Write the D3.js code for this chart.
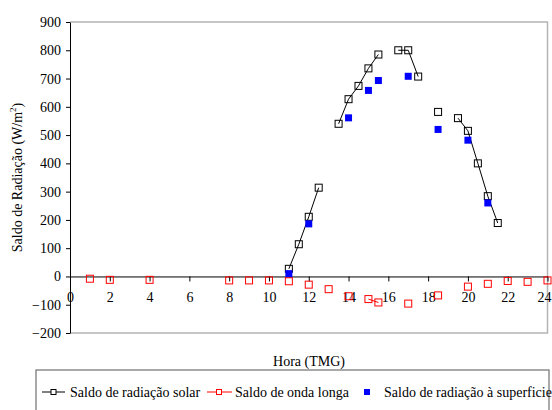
<!DOCTYPE html>
<html><head><meta charset="utf-8">
<script src="https://cdn.jsdelivr.net/npm/d3@7"></script>
<style>
body{margin:0;background:#fff;}
svg text{font-family:"Liberation Serif","Times New Roman",Times,"DejaVu Serif",serif !important;font-size:14px;fill:#000;}
</style></head>
<body><svg id="c" width="552" height="410"></svg>
<script>
const yTicks = [-200,-100,0,100,200,300,400,500,600,700,800,900];
const xTicks = [0,2,4,6,8,10,12,14,16,18,20,22,24];

const solarHours  = [11, 11.5, 12, 12.5, 13.5, 14, 14.5, 15, 15.5, 16.5, 17, 17.5, 18.5, 19.5, 20, 20.5, 21, 21.5];
const solarValues = [27, 114, 211, 314, 540, 627, 674, 736, 785, 800, 800, 707, 582, 560, 515, 400, 284, 189];

const longHours  = [1, 2, 4, 8, 9, 10, 11, 12, 13, 14, 15, 15.5, 17, 18.5, 20, 21, 22, 23, 24];
const longValues = [-8, -12, -12, -14, -14, -14, -17, -29, -45, -70, -80, -92, -96, -67, -36, -26, -16, -19, -14];

const surfHours  = [11, 12, 14, 15, 15.5, 17, 18.5, 20, 21];
const surfValues = [10, 186, 561, 658, 693, 708, 520, 482, 260];

const seriesNames = ["Saldo de radiação solar", "Saldo de onda longa", "Saldo de radiação à superficie"];

const FONT = '"Liberation Serif","Times New Roman",Times,"DejaVu Serif",serif';
const svg = d3.select("#c");
const L = 70, R = 547.5, T = 22, B = 333;
const x = d3.scaleLinear().domain([0,24]).range([L,R]);
const y = d3.scaleLinear().domain([-200,900]).range([B,T]);

// plot border (gray)
svg.append("path").attr("d",`M${L},${T}H${R}V${B}H${L}`).attr("fill","none").attr("stroke","#b4b4b4").attr("stroke-width",1.5);

// y axis
const ya = svg.append("g").attr("transform",`translate(${L},0)`)
  .call(d3.axisLeft(y).tickValues(yTicks).tickSize(4).tickPadding(5).tickSizeOuter(0))
  .attr("font-family",FONT).attr("font-size",14);
ya.select(".domain").attr("stroke","#000");
ya.selectAll(".tick line").attr("stroke","#000");
ya.selectAll("text").attr("fill","#000");

// x axis at zero
const xa = svg.append("g").attr("transform",`translate(0,${y(0)})`)
  .call(d3.axisBottom(x).tickValues(xTicks).tickSize(5).tickPadding(11).tickSizeOuter(0))
  .attr("font-family",FONT).attr("font-size",14);
xa.select(".domain").attr("stroke","#000");
xa.selectAll(".tick line").attr("stroke","#000");
xa.selectAll("text").attr("fill","#000");
xa.selectAll(".tick").filter(d=>d===24).select("text").attr("text-anchor","end").attr("dx",3.5);

// axis titles
svg.append("text").attr("x",309).attr("y",366).attr("text-anchor","middle").text("Hora (TMG)");
const yl = svg.append("text").attr("transform",`translate(22,${(T+B)/2}) rotate(-90)`).attr("text-anchor","middle");
yl.append("tspan").text("Saldo de Radiação (W/m");
yl.append("tspan").attr("dy",-6).style("font-size","9px").text("2");
yl.append("tspan").attr("dy",6).text(")");

function segments(hs, vs){
  const segs=[]; let cur=[];
  hs.forEach((h,i)=>{
    if(cur.length && h - cur[cur.length-1][0] > 0.5){ segs.push(cur); cur=[]; }
    cur.push([h, vs[i]]);
  });
  if(cur.length) segs.push(cur);
  return segs.filter(s=>s.length>1);
}
const line = d3.line().x(d=>x(d[0])).y(d=>y(d[1]));

function drawSeries(hs, vs, color){
  svg.append("g").selectAll("path").data(segments(hs,vs)).join("path")
    .attr("d",line).attr("fill","none").attr("stroke",color).attr("stroke-width",1);
  svg.append("g").selectAll("rect").data(hs.map((h,i)=>[h,vs[i]])).join("rect")
    .attr("x",d=>x(d[0])-3.5).attr("y",d=>y(d[1])-3.5).attr("width",7).attr("height",7)
    .attr("fill","none").attr("stroke",color).attr("stroke-width",1);
}
drawSeries(solarHours, solarValues, "#000");
drawSeries(longHours, longValues, "#ff0000");
svg.append("g").selectAll("rect").data(surfHours.map((h,i)=>[h,surfValues[i]])).join("rect")
  .attr("x",d=>x(d[0])-3.5).attr("y",d=>y(d[1])-3.5).attr("width",7).attr("height",7)
  .attr("fill","#0000ff");

// legend
svg.append("rect").attr("x",36).attr("y",370).attr("width",513).attr("height",60)
  .attr("fill","none").attr("stroke","#707070").attr("stroke-width",1.2);
const ly = 392;
const lg = svg.append("g");
[[42,65,53.5,70,"#000"],[207,232,219,235,"#ff0000"]].forEach((p,i)=>{
  lg.append("line").attr("x1",p[0]).attr("x2",p[1]).attr("y1",ly).attr("y2",ly).attr("stroke",p[4]);
  lg.append("rect").attr("x",p[2]-2.5).attr("y",ly-2.5).attr("width",5).attr("height",5).attr("fill","#fff").attr("stroke",p[4]);
  lg.append("text").attr("x",p[3]).attr("y",ly+5).text(seriesNames[i]);
});
lg.append("rect").attr("x",367-3).attr("y",ly-3).attr("width",6).attr("height",6).attr("fill","#0000ff");
lg.append("text").attr("x",384).attr("y",ly+5).text(seriesNames[2]);
</script></body></html>
